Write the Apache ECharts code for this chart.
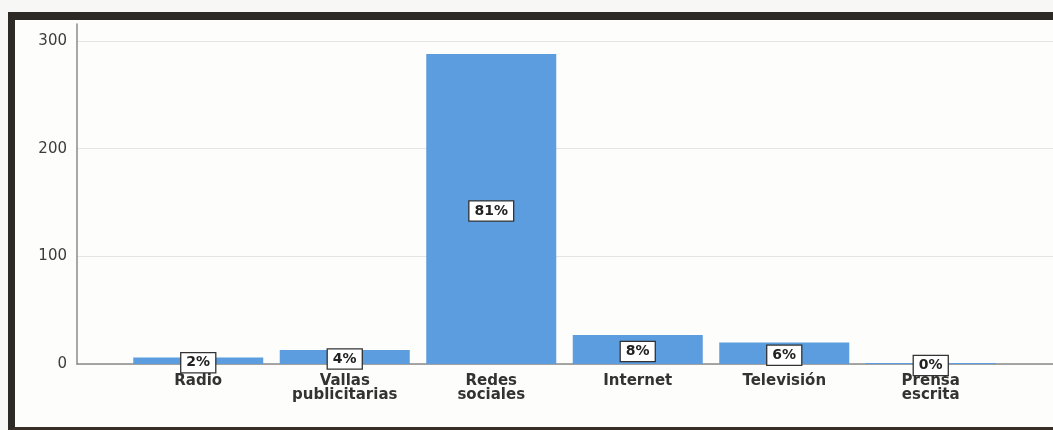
<!DOCTYPE html>
<html>
<head>
<meta charset="utf-8">
<script src="https://cdn.jsdelivr.net/npm/echarts@6/dist/echarts.min.js"></script>
<style>
  html, body { margin: 0; padding: 0; background: #f7f7f5; }
  #frame {
    position: absolute; left: 8px; top: 12px; width: 1060px; height: 418px;
    box-sizing: border-box; border-left: 7px solid #2d2925; border-top: 8px solid #2d2925;
    border-bottom: 3px solid #3a2f28; background: #fdfdfc;
  }
  #chart { position: absolute; left: 0; top: 0; width: 1053px; height: 430px; }
</style>
</head>
<body>
<div id="frame"></div>
<div id="chart"></div>
<script>
// Media channels and respondent counts
const categories = ['Radio', 'Vallas\npublicitarias', 'Redes\nsociales', 'Internet', 'Televisión', 'Prensa\nescrita'];
const counts = [6, 13, 288, 27, 20, 1];
const yTicks = [0, 100, 200, 300];

const total = counts.reduce((a, b) => a + b, 0);
const percentLabels = counts.map(v => Math.round(v / total * 100) + '%');

const chart = echarts.init(document.getElementById('chart'), null, { renderer: 'canvas' });

const axisGray = '#8a8a8a';
const plotBottom = 66;

chart.setOption({
  backgroundColor: 'transparent',
  animation: false,
  grid: [
    // frame axes (y axis line runs a bit above the 300 tick)
    { left: 77, right: 0, top: 24, bottom: plotBottom },
    // tick labels and grid lines
    { left: 77, right: 0, top: 41, bottom: plotBottom },
    // bars
    { left: 125, width: 879, top: 41, bottom: plotBottom }
  ],
  xAxis: [
    { gridIndex: 0, type: 'value', min: 0, max: 1, axisLine: { show: true, lineStyle: { color: axisGray, width: 1.5 } },
      axisTick: { show: false }, axisLabel: { show: false }, splitLine: { show: false } },
    { gridIndex: 1, type: 'value', min: 0, max: 1, show: false },
    { gridIndex: 2, type: 'category', data: categories,
      axisLine: { show: false }, axisTick: { show: false },
      axisLabel: { color: '#333333', fontFamily: 'DejaVu Sans', fontWeight: 'bold', fontSize: 15,
                   lineHeight: 14, margin: 10, interval: 0 } }
  ],
  yAxis: [
    { gridIndex: 0, type: 'value', min: 0, max: 316, axisLine: { show: true, lineStyle: { color: axisGray, width: 1.5 } },
      axisTick: { show: false }, axisLabel: { show: false }, splitLine: { show: false } },
    { gridIndex: 1, type: 'value', min: yTicks[0], max: yTicks[yTicks.length - 1], interval: 100,
      axisLine: { show: false }, axisTick: { show: false },
      axisLabel: { color: '#3c3c3c', fontFamily: 'DejaVu Sans', fontSize: 15, margin: 10 },
      splitLine: { show: true, lineStyle: { color: '#e4e4e4', width: 1 } } },
    { gridIndex: 2, type: 'value', min: yTicks[0], max: yTicks[yTicks.length - 1], show: false }
  ],
  series: [
    {
      type: 'bar',
      xAxisIndex: 2, yAxisIndex: 2,
      data: counts,
      barWidth: 130,
      itemStyle: { color: '#5b9ddf' },
      label: {
        show: true,
        position: 'inside',
        offset: [0, 2],
        formatter: p => percentLabels[p.dataIndex],
        color: '#222222',
        fontFamily: 'DejaVu Sans',
        fontWeight: 'bold',
        fontSize: 14,
        backgroundColor: '#ffffff',
        borderColor: '#333333',
        borderWidth: 1.3,
        padding: [3, 5, 2, 5]
      }
    }
  ]
});
</script>
</body>
</html>
